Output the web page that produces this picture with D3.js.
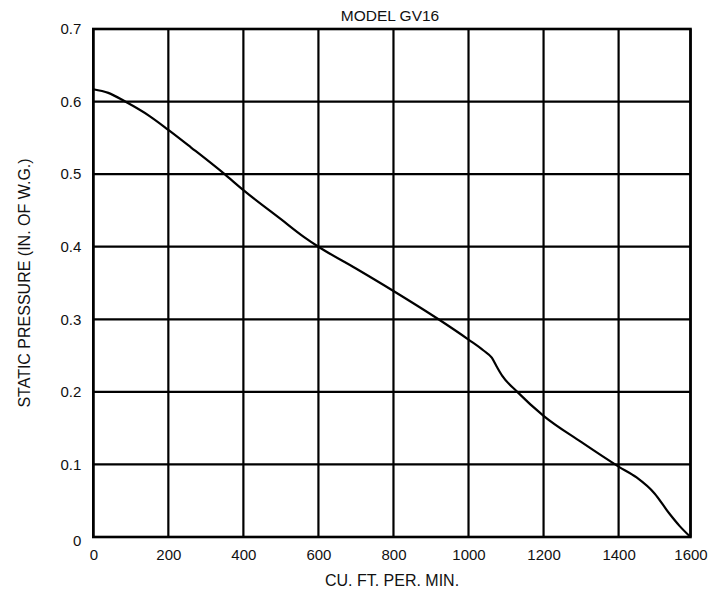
<!DOCTYPE html>
<html>
<head>
<meta charset="utf-8">
<script src="https://cdn.jsdelivr.net/npm/d3@7"></script>
<style>
  body { margin: 0; background: #fff; }
  svg text { font-family: "Liberation Sans", Arial, sans-serif; fill: #111; }
</style>
</head>
<body>
<div id="viz"></div>
<script>
// fan curve
const cfm = [0, 40, 85, 150, 200, 260, 350, 400, 500, 560, 600, 700, 800, 920, 1000, 1040, 1062, 1075, 1090, 1130, 1200, 1300, 1400, 1450, 1500, 1540, 1570, 1600];
const pressure = [0.617, 0.612, 0.600, 0.580, 0.561, 0.537, 0.500, 0.478, 0.438, 0.414, 0.400, 0.370, 0.339, 0.300, 0.272, 0.257, 0.247, 0.235, 0.222, 0.200, 0.167, 0.131, 0.097, 0.082, 0.060, 0.033, 0.015, 0];
const xTicks = [0, 200, 400, 600, 800, 1000, 1200, 1400, 1600];
const yTicks = [0, 0.1, 0.2, 0.3, 0.4, 0.5, 0.6, 0.7];
const title = 'MODEL GV16';
const xLabel = 'CU. FT. PER. MIN.';
const yLabel = 'STATIC PRESSURE (IN. OF W.G.)';

const width = 724, height = 589;
const plotTop = 29, plotBottom = 537;

// the printed grid's last column is a bit narrower than the others
const x = d3.scaleLinear().domain([0, 1400, 1600]).range([93.3, 618.6, 690.5]);
const y = d3.scaleLinear().domain([0, 0.7]).range([plotBottom, plotTop]);

const svg = d3.select('#viz').append('svg')
  .attr('width', width)
  .attr('height', height);

// grid lines
svg.append('g')
  .selectAll('line')
  .data(xTicks)
  .enter()
  .append('line')
  .attr('x1', d => x(d)).attr('x2', d => x(d))
  .attr('y1', plotTop).attr('y2', plotBottom)
  .attr('stroke', '#000')
  .attr('stroke-width', 2.2);

svg.append('g')
  .selectAll('line')
  .data(yTicks)
  .enter()
  .append('line')
  .attr('x1', x(0)).attr('x2', x(1600))
  .attr('y1', d => y(d)).attr('y2', d => y(d))
  .attr('stroke', '#000')
  .attr('stroke-width', 2.2);

// frame
svg.append('rect')
  .attr('x', x(0))
  .attr('y', y(0.7))
  .attr('width', x(1600) - x(0))
  .attr('height', y(0) - y(0.7))
  .attr('fill', 'none')
  .attr('stroke', '#000')
  .attr('stroke-width', 2.6);

// tick labels
const xAxis = svg.append('g')
  .attr('transform', `translate(0,${plotBottom})`)
  .call(d3.axisBottom(x).tickValues(xTicks).tickSize(0).tickPadding(12).tickFormat(d3.format('d')));
const yAxis = svg.append('g')
  .attr('transform', `translate(${x(0)},0)`)
  .call(d3.axisLeft(y).tickValues(yTicks).tickSize(0).tickPadding(12).tickFormat(d => d === 0 ? '0' : d3.format('.1f')(d)));

[xAxis, yAxis].forEach(g => {
  g.select('.domain').remove();
  g.selectAll('text')
    .attr('font-size', 15)
    .attr('font-family', '"Liberation Sans", Arial, sans-serif')
    .attr('fill', '#111');
});
yAxis.selectAll('text').filter(d => d === 0).attr('dy', '0.55em');

// curve
const pts = cfm.map((c, i) => [c, pressure[i]]);
svg.append('path')
  .datum(pts)
  .attr('fill', 'none')
  .attr('stroke', '#000')
  .attr('stroke-width', 2.2)
  .attr('stroke-linejoin', 'round')
  .attr('d', d3.line()
    .x(d => x(d[0]))
    .y(d => y(d[1]))
    .curve(d3.curveMonotoneX));

// labels
svg.append('text')
  .attr('x', 390)
  .attr('y', 20.5)
  .attr('text-anchor', 'middle')
  .attr('font-size', 15.5)
  .text(title);

svg.append('text')
  .attr('x', 392)
  .attr('y', 586)
  .attr('text-anchor', 'middle')
  .attr('font-size', 16)
  .text(xLabel);

svg.append('text')
  .attr('transform', 'translate(30,283) rotate(-90)')
  .attr('text-anchor', 'middle')
  .attr('font-size', 16)
  .text(yLabel);
</script>
</body>
</html>
